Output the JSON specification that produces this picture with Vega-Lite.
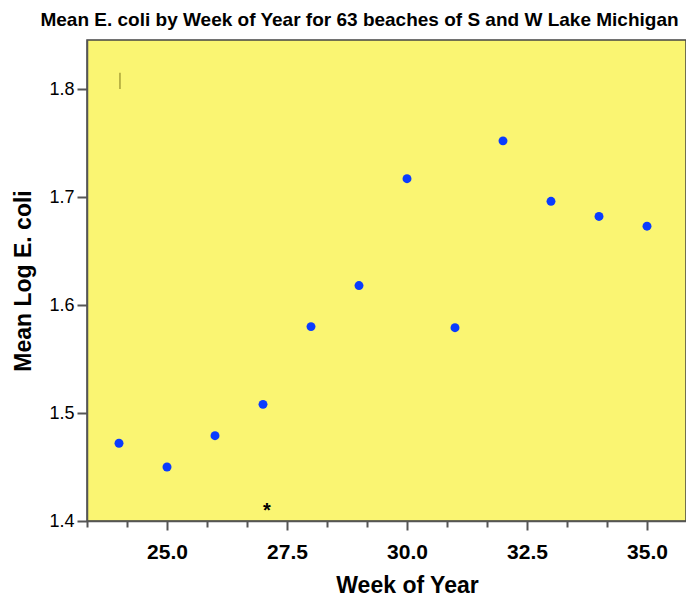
{
  "$schema": "https://vega.github.io/schema/vega-lite/v6.json",
  "width": 599,
  "height": 481,
  "autosize": {"type": "none"},
  "padding": {"left": 87, "top": 40, "right": 0, "bottom": 80},
  "background": "white",
  "title": {
    "text": "Mean E. coli by Week of Year for 63 beaches of S and W Lake Michigan",
    "font": "Liberation Sans",
    "fontSize": 19,
    "fontWeight": "bold",
    "color": "black",
    "anchor": "middle",
    "dx": -27,
    "offset": 10
  },
  "config": {
    "view": {"fill": "#faf572", "stroke": "#444444", "strokeWidth": 1.5},
    "axis": {"grid": false, "domainColor": "#555555", "tickColor": "#555555", "labelColor": "black", "titleColor": "black", "labelFont": "Liberation Sans", "titleFont": "Liberation Sans"}
  },
  "datasets": {
    "points": [
      {"week": 24, "mean": 1.472},
      {"week": 25, "mean": 1.450},
      {"week": 26, "mean": 1.479},
      {"week": 27, "mean": 1.508},
      {"week": 28, "mean": 1.580},
      {"week": 29, "mean": 1.618},
      {"week": 30, "mean": 1.717},
      {"week": 31, "mean": 1.579},
      {"week": 32, "mean": 1.752},
      {"week": 33, "mean": 1.696},
      {"week": 34, "mean": 1.682},
      {"week": 35, "mean": 1.673}
    ],
    "star": [{"week": 27.08, "mean": 1.413, "label": "*"}],
    "mark": [{"week": 24.02, "y1": 1.8, "y2": 1.815}]
  },
  "layer": [
    {
      "data": {"name": "points"},
      "mark": {"type": "circle", "size": 80, "color": "#0a3cff", "opacity": 1},
      "encoding": {
        "x": {
          "field": "week", "type": "quantitative",
          "scale": {"domain": [23.3333, 35.8125], "nice": false, "zero": false},
          "axis": {
            "title": "Week of Year",
            "titleFontSize": 23, "titleFontWeight": "bold", "titlePadding": 12,
            "titleX": 320, "titleAlign": "center",
            "values": [23.3333, 24.1667, 25, 25.8333, 26.6667, 27.5, 28.3333, 29.1667, 30, 30.8333, 31.6667, 32.5, 33.3333, 34.1667, 35],
            "tickSize": {"expr": "abs(datum.value / 2.5 - round(datum.value / 2.5)) < 0.001 ? 9 : 6"},
            "tickWidth": 2,
            "labelExpr": "abs(datum.value / 2.5 - round(datum.value / 2.5)) < 0.001 ? format(datum.value, '.1f') : ''",
            "labelFontSize": 21, "labelFontWeight": "bold", "labelPadding": 11,
            "labelOverlap": false, "labelFlush": false,
            "domainWidth": 1.5
          }
        },
        "y": {
          "field": "mean", "type": "quantitative",
          "scale": {"domain": [1.4, 1.8454], "nice": false, "zero": false},
          "axis": {
            "title": "Mean Log E. coli",
            "titleFontSize": 23, "titleFontWeight": "bold", "titlePadding": 13,
            "values": [1.4, 1.5, 1.6, 1.7, 1.8],
            "format": ".1f",
            "tickSize": 10, "tickWidth": 2,
            "labelFontSize": 18, "labelPadding": 3,
            "domainWidth": 1.5
          }
        }
      }
    },
    {
      "data": {"name": "star"},
      "mark": {"type": "text", "fontSize": 20, "fontWeight": "bold", "font": "Liberation Sans", "color": "black", "baseline": "middle", "dy": 4},
      "encoding": {
        "x": {"field": "week", "type": "quantitative"},
        "y": {"field": "mean", "type": "quantitative"},
        "text": {"field": "label"}
      }
    },
    {
      "data": {"name": "mark"},
      "mark": {"type": "rule", "color": "#a8a238", "strokeWidth": 1.5},
      "encoding": {
        "x": {"field": "week", "type": "quantitative"},
        "y": {"field": "y1", "type": "quantitative"},
        "y2": {"field": "y2"}
      }
    }
  ]
}
